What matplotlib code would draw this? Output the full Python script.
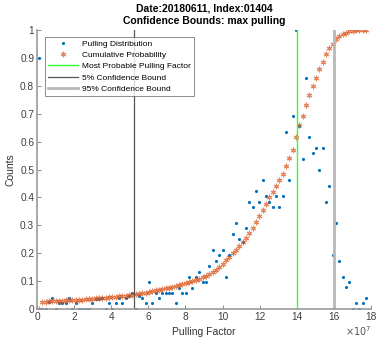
import matplotlib.pyplot as plt
import numpy as np

plt.rcParams['font.family'] = ['Liberation Sans', 'DejaVu Sans']

# bins of the pulling factor histogram (units of 1e7)
x_start = 0.1
bin_step = 0.18
n_bins = 99

# normalised histogram (Pulling Distribution)
pulling_dist = [
    0.9, 0.0, 0.0, 0.025, 0.038, 0.0, 0.023, 0.023, 0.023, 0.038,
    0.0, 0.023, 0.0, 0.0, 0.0, 0.0, 0.023, 0.035, 0.035, 0.04,
    0.0, 0.023, 0.0, 0.023, 0.04, 0.023, 0.04, 0.045, 0.058, 0.0,
    0.045, 0.038, 0.023, 0.095, 0.023, 0.058, 0.038, 0.058, 0.058, 0.058,
    0.058, 0.023, 0.075, 0.058, 0.058, 0.116, 0.077, 0.116, 0.134, 0.097,
    0.097, 0.154, 0.211, 0.173, 0.192, 0.211, 0.116, 0.192, 0.269, 0.307,
    0.25, 0.24, 0.289, 0.385, 0.366, 0.424, 0.385, 0.462, 0.404, 0.385,
    0.366, 0.404, 0.366, 0.404, 0.634, 0.462, 0.693, 1.0, 0.656, 0.539,
    0.829, 0.615, 0.558, 0.577, 0.499, 0.577, 0.385, 0.442, 0.192, 0.308,
    0.173, 0.116, 0.078, 0.097, 0.0, 0.02, 0.0, 0.02, 0.039,
]

# cumulative probability
cumulative = [
    0.0, 0.025, 0.026, 0.027, 0.028, 0.029, 0.029, 0.030, 0.031, 0.031,
    0.032, 0.032, 0.033, 0.034, 0.035, 0.036, 0.037, 0.038, 0.039, 0.040,
    0.041, 0.042, 0.043, 0.044, 0.045, 0.046, 0.047, 0.049, 0.051, 0.053,
    0.055, 0.057, 0.059, 0.061, 0.064, 0.067, 0.069, 0.071, 0.074, 0.077,
    0.080, 0.083, 0.086, 0.090, 0.093, 0.097, 0.101, 0.105, 0.109, 0.113,
    0.118, 0.126, 0.133, 0.141, 0.150, 0.162, 0.175, 0.186, 0.199, 0.212,
    0.226, 0.241, 0.255, 0.271, 0.290, 0.311, 0.333, 0.356, 0.378, 0.400,
    0.421, 0.442, 0.462, 0.484, 0.511, 0.540, 0.571, 0.617, 0.661, 0.692,
    0.730, 0.767, 0.798, 0.829, 0.859, 0.887, 0.913, 0.934, 0.951, 0.966,
    0.977, 0.984, 0.991, 0.996, 0.998, 0.999, 1.0, 1.0, 1.0,
]

most_probable = 14.0e7
bound_5 = 5.24e7
bound_95 = 15.98e7

x = (x_start + bin_step * np.arange(n_bins)) * 1e7

fig = plt.figure(figsize=(3.8, 3.38), dpi=100)
ax = fig.add_axes([37 / 380, 29 / 338, 334 / 380, 279 / 338])

ax.plot(x, pulling_dist, '.', color='#0072BD', markersize=2.5, label='Pulling Distribution')
ax.plot(x, cumulative, linestyle='none', marker=(6, 2, 0), color='#D95319', alpha=0.7,
        markersize=4, markeredgewidth=0.8, label='Cumulative Probability')
ax.plot([most_probable] * 2, [0, 1], color='#33ff33', lw=1, label='Most Probable Pulling Factor')
ax.plot([bound_5] * 2, [0, 1], color='#555555', lw=0.9, label='5% Confidence Bound')
ax.plot([bound_95] * 2, [0, 1], color='#b8b8b8', lw=2, label='95% Confidence Bound')

ax.set_xlim(0, 18e7)
ax.set_ylim(0, 1)
ax.set_xticks(np.arange(0, 19, 2) * 1e7)
ax.set_xticklabels([str(v) for v in range(0, 19, 2)])
ax.set_yticks(np.arange(0, 1.01, 0.1))
ax.set_yticklabels(['0'] + ['%.1f' % v for v in np.arange(0.1, 0.95, 0.1)] + ['1'])

for side in ['top', 'right']:
    ax.spines[side].set_visible(False)
for side in ['left', 'bottom']:
    ax.spines[side].set_color('#999999')
    ax.spines[side].set_linewidth(1.2)
ax.tick_params(direction='in', length=3, width=0.6, color='#777777',
               labelsize=7.3, labelcolor='#404040', pad=2)

ax.set_xlabel('Pulling Factor', fontsize=7.5, color='#333333', labelpad=4)
ax.set_ylabel('Counts', fontsize=7.5, color='#333333', labelpad=3)
ax.set_title('Date:20180611, Index:01404\nConfidence Bounds: max pulling',
             fontsize=7.5, fontweight='bold', pad=4, linespacing=1.4)
ax.text(1.0, -0.055, r'$\times10^{7}$', transform=ax.transAxes, ha='right', va='top',
        fontsize=7, color='#555555')

leg = ax.legend(loc='upper left', bbox_to_anchor=(0.024, 0.975), fontsize=6.0,
                frameon=True, fancybox=False, edgecolor='#555555', borderpad=0.35,
                labelspacing=0.42, handlelength=3.6, handletextpad=0.5, borderaxespad=0)
leg.get_frame().set_linewidth(0.6)

fig.savefig('out.png', dpi=100)
